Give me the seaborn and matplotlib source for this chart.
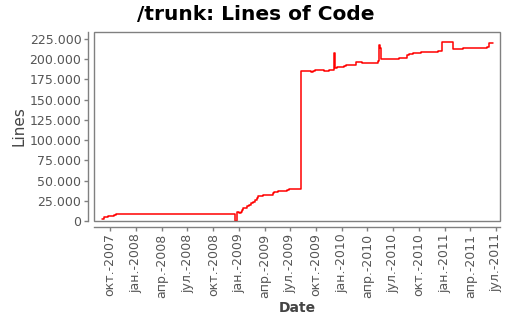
import matplotlib
matplotlib.use("Agg")
import matplotlib.pyplot as plt
from matplotlib.patches import Rectangle
import seaborn as sns
import pandas as pd

dates = [
    "2007-09-04", "2007-09-11", "2007-09-25", "2007-10-16", "2007-10-23",
    "2008-12-18", "2008-12-24", "2008-12-31", "2009-01-06", "2009-01-10",
    "2009-01-13", "2009-01-23", "2009-01-30", "2009-02-06", "2009-02-13",
    "2009-02-20", "2009-02-27", "2009-03-06", "2009-03-10", "2009-03-28",
    "2009-05-02", "2009-05-06", "2009-05-18", "2009-06-18", "2009-06-25",
    "2009-08-07", "2009-09-13", "2009-09-18", "2009-09-26", "2009-10-27",
    "2009-11-17", "2009-12-05", "2009-12-06", "2009-12-15", "2010-01-09",
    "2010-01-16", "2010-02-21", "2010-03-14", "2010-05-10", "2010-05-13",
    "2010-05-14", "2010-05-20", "2010-07-23", "2010-08-20", "2010-08-28",
    "2010-09-11", "2010-10-09", "2010-12-08", "2010-12-23", "2011-01-31",
    "2011-03-04", "2011-05-31", "2011-06-05", "2011-06-19",
]
lines = [
    2500, 4500, 6200, 7400, 8700,
    0, 10700, 9900, 10700, 13600,
    15700, 16500, 18500, 19800, 21800,
    23500, 26000, 28000, 30500, 31700,
    34200, 35400, 36700, 37900, 39100,
    185000, 183800, 185000, 186200, 185000,
    186200, 207700, 188700, 190000, 191200,
    192400, 196100, 194900, 197400, 217600,
    213400, 199800, 201000, 204800, 206000,
    207300, 208500, 209700, 220900, 212200,
    213400, 214600, 219600, 219600,
]
tick_dates = [
    "2007-10-01", "2008-01-01", "2008-04-01", "2008-07-01", "2008-10-01",
    "2009-01-01", "2009-04-01", "2009-07-01", "2009-10-01", "2010-01-01",
    "2010-04-01", "2010-07-01", "2010-10-01", "2011-01-01", "2011-04-01",
    "2011-07-01",
]
tick_labels = [
    "окт.-2007", "јан.-2008", "апр.-2008", "јул.-2008", "окт.-2008",
    "јан.-2009", "апр.-2009", "јул.-2009", "окт.-2009", "јан.-2010",
    "апр.-2010", "јул.-2010", "окт.-2010", "јан.-2011", "апр.-2011",
    "јул.-2011",
]
y_ticks = [0, 25000, 50000, 75000, 100000, 125000, 150000, 175000, 200000, 225000]

sns.set_style("white")
plt.rcParams["font.family"] = ["DejaVu Sans"]

df = pd.DataFrame({"Date": pd.to_datetime(dates), "Lines": lines})

fig = plt.figure(figsize=(5.12, 3.2), dpi=100)
ax = fig.add_axes([94 / 512, 1 - 221 / 320, 406 / 512, 189 / 320])

sns.lineplot(data=df, x="Date", y="Lines", drawstyle="steps-post",
             color="#ff0000", linewidth=1.1, ax=ax)

ax.set_xlim(pd.Timestamp("2007-08-05"), pd.Timestamp("2011-07-15"))
ax.set_ylim(0, 233500)

gray = "#808080"
for s in ["top", "right"]:
    ax.spines[s].set_visible(False)
for s in ["left", "bottom"]:
    ax.spines[s].set_position(("outward", 4))
    ax.spines[s].set_color(gray)
    ax.spines[s].set_linewidth(1.0)
ax.add_patch(Rectangle((0, 0), 1, 1, transform=ax.transAxes, fill=False,
                       edgecolor=gray, linewidth=1.0, clip_on=False, zorder=5))

ax.tick_params(axis="both", which="major", length=3, width=1, color=gray,
               labelcolor="#555555", labelsize=9, pad=2, direction="out",
               bottom=True, left=True)

ax.set_yticks(y_ticks)
ax.set_yticklabels([f"{v:,}".replace(",", ".") for v in y_ticks])
ax.set_xticks(pd.to_datetime(tick_dates))
ax.set_xticklabels(tick_labels)
for lbl in ax.get_xticklabels():
    lbl.set_rotation(90)
    lbl.set_ha("center")
    lbl.set_va("top")

ax.set_xlabel("Date", fontsize=10, fontweight="bold", color="#444444", labelpad=2)
ax.set_ylabel("Lines", fontsize=11, color="#444444", labelpad=2)

fig.text(0.5, 1 - 14 / 320, "/trunk: Lines of Code", ha="center", va="center",
         fontsize=14.5, fontweight="bold", color="black")

fig.savefig("out.png", dpi=100)
